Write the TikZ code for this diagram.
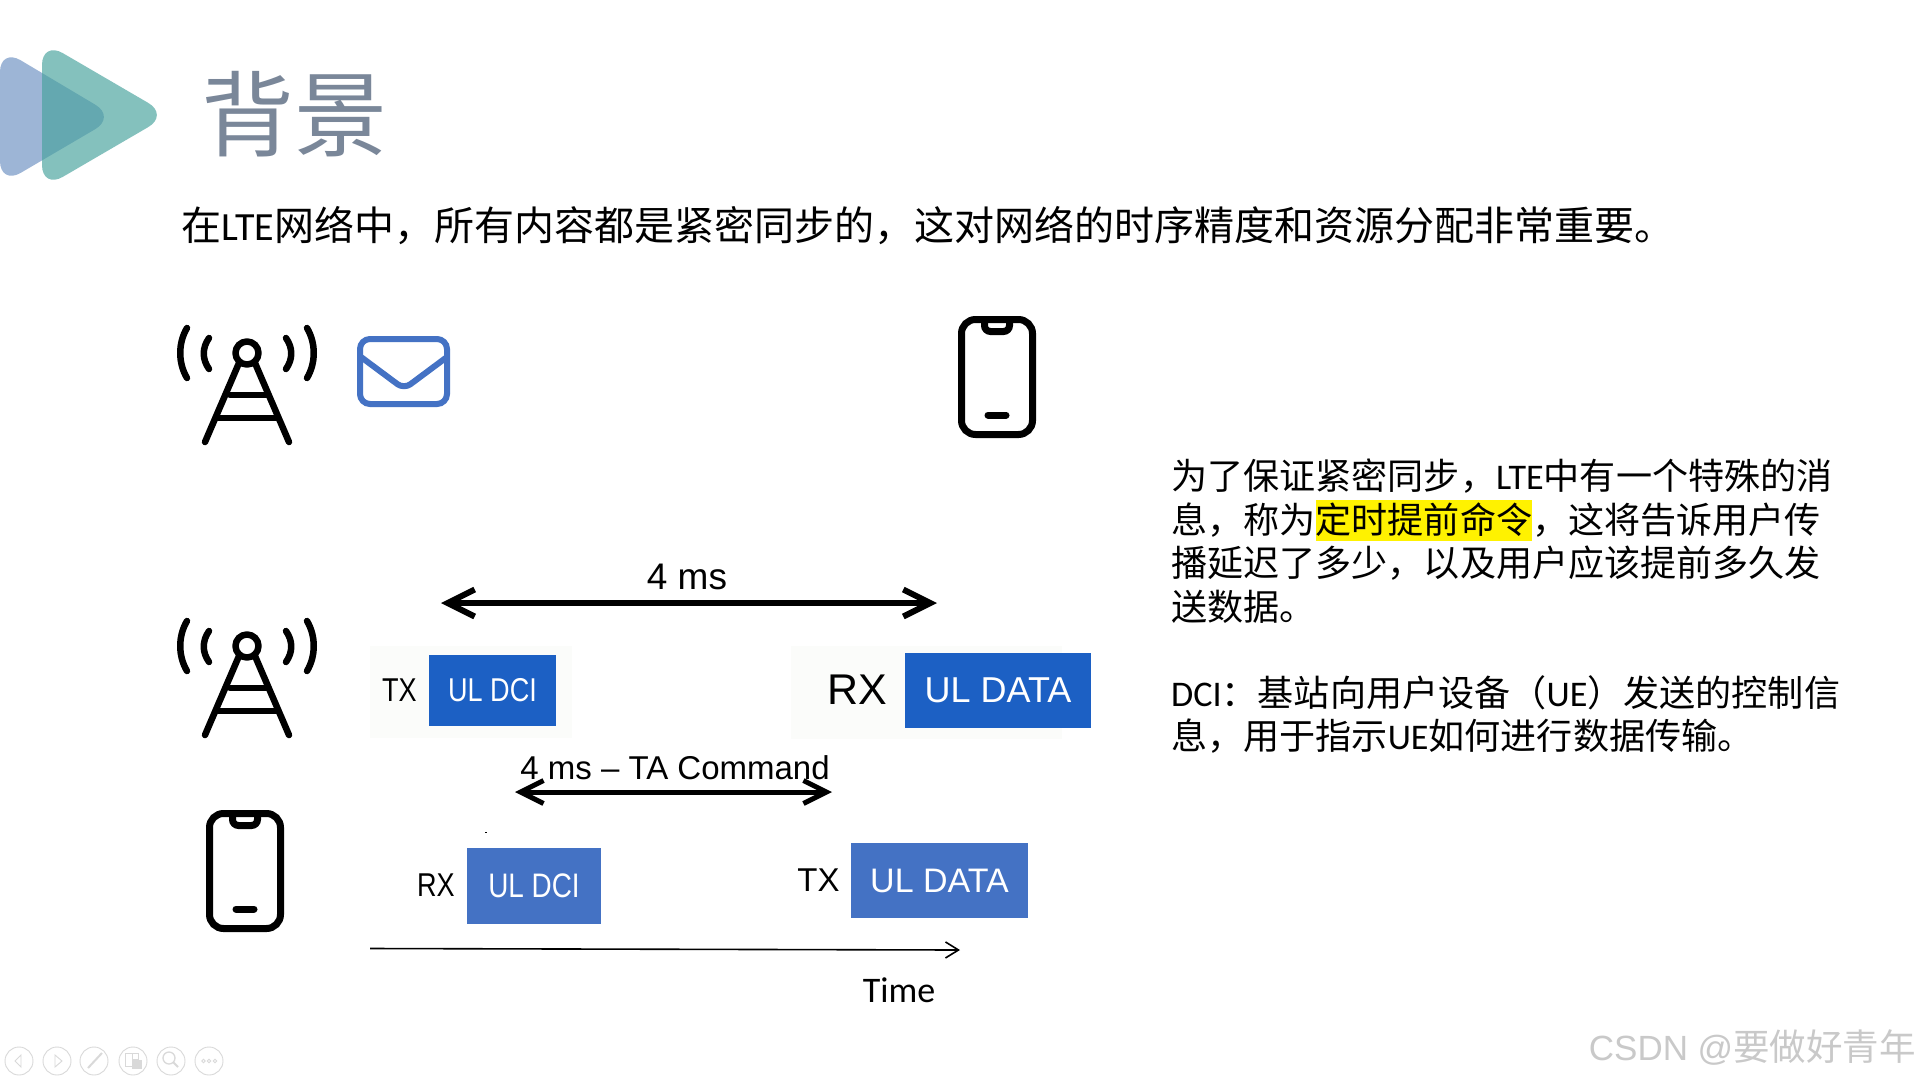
\documentclass[tikz,border=0pt]{standalone}
\usepackage{fontspec}
\usepackage{tikz}
\usetikzlibrary{arrows.meta,positioning}
\setmainfont{Noto Sans CJK SC}
\newfontfamily\latfont{Carlito}
\newfontfamily\arialfont{Liberation Sans}
\newfontfamily\narrowfont[FakeStretch=0.82]{Liberation Sans}
\newcommand{\lat}[1]{{\latfont #1}}
\definecolor{titlegray}{HTML}{7A8799}
\definecolor{darkblue}{HTML}{1C60C4}
\definecolor{midblue}{HTML}{4472C4}
\definecolor{paleblue}{HTML}{9DB5D6}
\definecolor{tealplay}{RGB}{73,163,158}
\definecolor{navgray}{HTML}{D9D9D9}
\definecolor{markgray}{HTML}{C9C9C9}
\definecolor{palebg}{HTML}{FBFCFA}

\begin{document}
\begin{tikzpicture}[x=1pt,y=-1pt,
    block/.style={rectangle, text=white, inner sep=0pt},
    dcibox/.style={block, font=\narrowfont\fontsize{33}{33}\selectfont},
    databox/.style={block, font=\arialfont\fontsize{34}{34}\selectfont},
    tag/.style={inner sep=0pt, font=\narrowfont\fontsize{33}{33}\selectfont},
    span/.style={{Straight Barb[length=#1pt,width=#1pt]}-{Straight Barb[length=#1pt,width=#1pt]}, line join=round, line cap=round},
    iconline/.style={line width=6.5pt, line cap=round, line join=round},
    tower/.pic={
        \draw[iconline] (0,0) circle (11.5);
        \draw[iconline] (-8,10) -- (-42,89) (8,10) -- (42,89);
        \draw[iconline] (-17,42) -- (20,42) (-29,65) -- (30,65);
        \draw[iconline] (-60,-25) .. controls (-69,-10) and (-69,10) .. (-60,25);
        \draw[iconline] (-38,-15) .. controls (-45,-5) and (-45,6) .. (-38,16);
        \draw[iconline] (60,-25) .. controls (69,-10) and (69,10) .. (60,25);
        \draw[iconline] (39,-15) .. controls (46,-5) and (46,6) .. (39,16);
    },
    phone/.pic={
        \draw[line width=7pt, rounded corners=14pt] (-35.5,-57.5) rectangle (35.5,57.5);
        \draw[line width=7pt, rounded corners=6pt] (-12.5,-57.5) -- (-12.5,-45.5) -- (12.5,-45.5) -- (12.5,-57.5);
        \draw[line width=7pt, line cap=round] (-9,38) -- (9,38);
    },
    navbtn/.style={circle, draw=navgray, line width=0.9pt, minimum size=28pt, inner sep=0pt}
]
    \path[use as bounding box, fill=white] (0,0) rectangle (1919,1079);

    % play mark and heading
    \fill[paleblue, rounded corners=24pt] (0,48) -- (116,117) -- (0,185) -- cycle;
    \fill[tealplay, fill opacity=.67, rounded corners=24pt] (42,41) -- (169,115) -- (42,189) -- cycle;
    \node[anchor=base west, inner sep=0pt, text=titlegray, font=\fontsize{93}{93}\selectfont] (heading) at (201,149) {背景};
    \node[anchor=base west, inner sep=0pt, font=\fontsize{40}{40}\selectfont] (intro) at (181,240) {在\lat{LTE}网络中，所有内容都是紧密同步的，这对网络的时序精度和资源分配非常重要。};

    % icons
    \pic at (247,353) {tower};
    \pic at (247,646) {tower};
    \pic at (997,377) {phone};
    \pic at (245,871) {phone};
    \draw[midblue, line width=6pt, rounded corners=10pt] (360,339) rectangle (447,404);
    \draw[midblue, line width=6pt, line join=round, rounded corners=8pt] (361,357) -- (404,389) -- (447,357);

    % upper row
    \fill[palebg] (370,646) rectangle (572,738);
    \fill[palebg] (791,646) rectangle (1062,739);
    \node[dcibox, fill=darkblue, minimum width=127pt, minimum height=71pt] (dcitop) at (492.5,690) {UL DCI};
    \node[databox, fill=darkblue, minimum width=186pt, minimum height=75pt, font=\arialfont\fontsize{36}{36}\selectfont] (datatop) at (998,690) {UL DATA};
    \node[tag, left=12pt of dcitop] (txtop) {TX};
    \node[left=17pt of datatop, inner sep=0pt, font=\arialfont\fontsize{43}{43}\selectfont] (rxtop) {RX};

    % lower row
    \node[dcibox, fill=midblue, minimum width=134pt, minimum height=76pt, font=\narrowfont\fontsize{34}{34}\selectfont] (dcilow) at (534,885.5) {UL DCI};
    \node[databox, fill=midblue, minimum width=177pt, minimum height=75pt] (datalow) at (939.5,880.5) {UL DATA};
    \node[tag, left=12pt of dcilow] (rxlow) {RX};
    \node[left=11pt of datalow, inner sep=0pt, font=\arialfont\fontsize{33}{33}\selectfont] (txlow) {TX};
    \fill (484.5,831.5) rectangle (487,833);

    % timing spans
    \coordinate (fourl) at (441,603);
    \coordinate (fourr) at (937,603);
    \coordinate (tal) at (515,792);
    \coordinate (tar) at (832,792);
    \coordinate (timel) at (370,948.5);
    \coordinate (timer) at (960,950);
    \draw[span=27, line width=6pt] (fourl) -- (fourr);
    \draw[span=23, line width=5pt] (tal) -- (tar);
    \draw[-{Straight Barb[length=13pt,width=16pt]}, line width=1.6pt] (timel) -- (timer);
    \node[inner sep=0pt, font=\arialfont\fontsize{37}{37}\selectfont] (fourms) at (687,577) {4 ms};
    \node[inner sep=0pt, font=\arialfont\fontsize{33}{33}\selectfont] (tacmd) at (675,768) {4 ms – TA Command};
    \node[inner sep=0pt, font=\latfont\fontsize{36}{36}\selectfont] (timelabel) at (899,990) {Time};

    % explanation on the right
    \node[anchor=north west, inner sep=0pt, align=left, font=\fontsize{36.1}{43.4}\selectfont] (note) at (1171,459) {为了保证紧密同步，\lat{LTE}中有一个特殊的消\\息，称为{\fboxsep=0pt\colorbox{yellow}{\rule[-8pt]{0pt}{41pt}定时提前命令}}，这将告诉用户传\\播延迟了多少，以及用户应该提前多久发\\送数据。};
    \node[anchor=north west, inner sep=0pt, align=left, font=\fontsize{36.1}{43.4}\selectfont] (dcinote) at (1171,675) {\lat{DCI}：基站向用户设备（\lat{UE}）发送的控制信\\息，用于指示\lat{UE}如何进行数据传输。};

    % slide controls
    \foreach \nm/\cx in {prev/19,next/57,pen/94,tile/133,find/171,more/209}
        \node[navbtn] (\nm) at (\cx,1061) {};
    \begin{scope}[navgray, line width=0.9pt]
        \draw (21,1055) -- (15,1061) -- (21,1067) -- cycle;
        \draw (55,1055) -- (62,1061) -- (55,1067) -- cycle;
        \draw[line width=2pt] (88,1068) -- (102,1053);
        \draw (125,1053) rectangle (132,1066);
        \draw (132,1053) rectangle (138,1059);
        \fill (132,1060) rectangle (142,1069);
        \draw[line width=1.3pt] (169,1058) circle (6);
        \draw[line width=1.8pt] (173,1062) -- (178,1067);
        \foreach \cx in {203.5,209,215} \draw (\cx,1061) circle (1.8);
    \end{scope}

    \node[anchor=base east, inner sep=0pt, text=markgray, font=\fontsize{36.5}{36.5}\selectfont] (mark) at (1916,1060) {{\arialfont\fontsize{35}{35}\selectfont CSDN @}要做好青年};
\end{tikzpicture}
\end{document}
